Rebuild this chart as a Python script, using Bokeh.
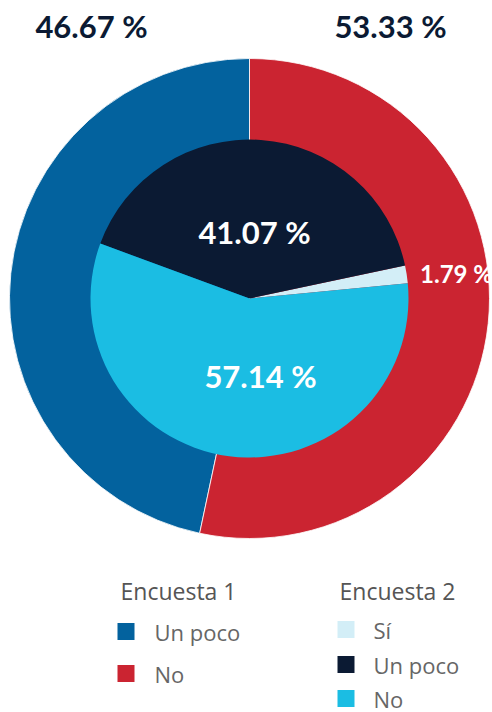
import math
from bokeh.plotting import figure
from bokeh.models import Range1d
from bokeh.core.properties import value
from bokeh.embed import file_html
from bokeh.resources import INLINE

# ---- data ----
enc1_labels = ["Un poco", "No"]
enc1_values = [46.67, 53.33]
enc1_colors = ["#03629e", "#cb2431"]

enc2_labels = ["Sí", "Un poco", "No"]
enc2_values = [1.79, 41.07, 57.14]
enc2_colors = ["#d3eef7", "#0b1a33", "#1bbde3"]

enc1_title = "Encuesta 1"
enc2_title = "Encuesta 2"

W, H = 492, 712
p = figure(width=W, height=H, output_backend="svg", toolbar_location=None,
           x_range=Range1d(0, W), y_range=Range1d(0, H), min_border=0)
p.axis.visible = False
p.grid.visible = False
p.outline_line_color = None
p.background_fill_color = "white"
p.border_fill_color = "white"


def Y(py):
    return H - py


cx, cy = 249, Y(298)
R_out, R_in = 240, 159

# outer pie (Encuesta 1): blue counterclockwise from top, red the rest
start = 90.0
for lab, val, col in zip(enc1_labels, enc1_values, enc1_colors):
    span = val / sum(enc1_values) * 360.0
    p.wedge(x=cx, y=cy, radius=R_out, start_angle=math.radians(start),
            end_angle=math.radians(start + span),
            fill_color=col, line_color="white", line_width=0.8)
    start += span

# inner pie (Encuesta 2)
start = 5.5
for lab, val, col in zip(enc2_labels, enc2_values, enc2_colors):
    span = val / sum(enc2_values) * 360.0
    p.wedge(x=cx, y=cy, radius=R_in, start_angle=math.radians(start),
            end_angle=math.radians(start + span),
            fill_color=col, line_color=None)
    start += span

FONT = value("Lato")

# outer data labels
p.text(x=[91, 390], y=[Y(25), Y(25)], text=[f"{v:.2f} %" for v in enc1_values],
       text_font=FONT, text_font_style="bold", text_font_size="31px",
       text_color="#0b1a33", text_align="center", text_baseline="middle")

# inner data labels
p.text(x=[456, 254, 260], y=[Y(273), Y(231), Y(375)],
       text=[f"{v:.2f} %" for v in enc2_values],
       text_font=FONT, text_font_style="bold",
       text_font_size=["24px", "31px", "31px"],
       text_color="white", text_align="center", text_baseline="middle")

# legends
TITLE_COL = "#555555"
LEG_COL = "#666666"
p.text(x=[120, 339], y=[Y(590), Y(590)], text=[enc1_title, enc2_title],
       text_font=value("Open Sans"), text_font_size="23px", text_color=TITLE_COL,
       text_align="left", text_baseline="middle")

e1_y = [Y(631), Y(673)]
p.scatter(x=[125.5] * len(enc1_labels), y=e1_y, marker="square", size=17,
          fill_color=enc1_colors, line_color=None)
p.text(x=[154] * len(enc1_labels), y=e1_y, text=enc1_labels,
       text_font=value("Open Sans"), text_font_size="22px", text_color=LEG_COL,
       text_align="left", text_baseline="middle")

e2_y = [Y(629), Y(664), Y(698)]
p.scatter(x=[345.5] * len(enc2_labels), y=e2_y, marker="square", size=17,
          fill_color=enc2_colors, line_color=None)
p.text(x=[373] * len(enc2_labels), y=e2_y, text=enc2_labels,
       text_font=value("Open Sans"), text_font_size="22px", text_color=LEG_COL,
       text_align="left", text_baseline="middle")

open("out.html", "w").write(file_html(p, INLINE))
